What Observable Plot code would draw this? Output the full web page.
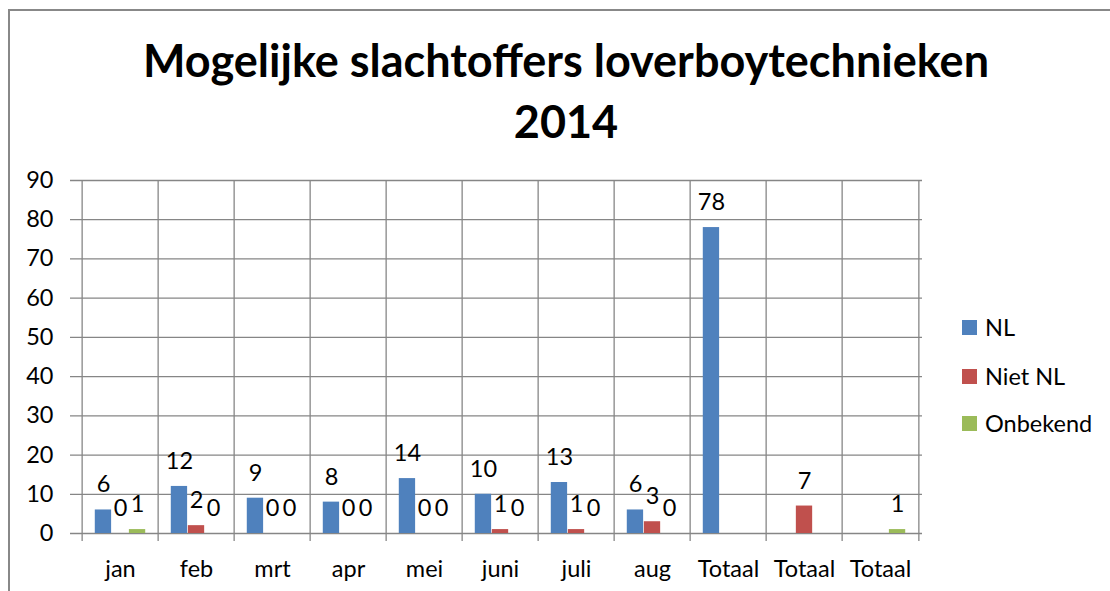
<!DOCTYPE html>
<html>
<head>
<meta charset="utf-8">
<script src="https://cdn.jsdelivr.net/npm/d3@7"></script>
<script src="https://cdn.jsdelivr.net/npm/@observablehq/plot@0.6"></script>
<style>
  html, body { margin: 0; padding: 0; background: #fff; }
  body { width: 1110px; height: 591px; position: relative; overflow: hidden; font-family: Lato, "Open Sans", sans-serif; color: #000; }
  #border { position: absolute; left: 8px; top: 9px; width: 1110px; height: 600px; border-top: 2px solid #888; border-left: 2px solid #888; }
  #title { position: absolute; left: 0; width: 1132px; top: 30px; text-align: center; font-weight: bold; font-size: 45px; line-height: 61px; }
  #chart { position: absolute; left: 0; top: 150px; }
  .leg { position: absolute; left: 962px; font-size: 23.5px; height: 20px; }
  .sw { position: absolute; width: 15px; height: 15px; left: 0; }
  .lt { position: absolute; left: 23px; top: -15px; white-space: nowrap; line-height: 30px; }
</style>
</head>
<body>
<div id="border"></div>
<div id="title">Mogelijke slachtoffers loverboytechnieken<br>2014</div>
<div id="chart"></div>
<div id="legend"></div>
<script>
const categories = ["jan", "feb", "mrt", "apr", "mei", "juni", "juli", "aug", "Totaal", "Totaal", "Totaal"];
const series = ["NL", "Niet NL", "Onbekend"];
const nl = [6, 12, 9, 8, 14, 10, 13, 6, 78, null, null];
const nietNl = [0, 2, 0, 0, 0, 1, 1, 3, null, 7, null];
const onbekend = [1, 0, 0, 0, 0, 0, 0, 0, null, null, 1];
const yTicks = [0, 10, 20, 30, 40, 50, 60, 70, 80, 90];
const colors = ["#4F81BD", "#C0504D", "#9BBB59"];

const keys = categories.map((c, i) => i);
const seriesValues = [nl, nietNl, onbekend];
const data = [];
seriesValues.forEach((vals, s) => vals.forEach((v, i) => {
  if (v != null) data.push({key: i, series: series[s], s, value: v});
}));

const width = 1110, height = 441;
const marginLeft = 78, marginRight = 188, marginTop = 30, marginBottom = 58;
const step = (width - marginLeft - marginRight) / keys.length;
const bw = step / 4.5;
const grid = "#868686";

const marks = [];
marks.push(Plot.ruleY(yTicks, {stroke: grid, strokeWidth: 1.3, insetLeft: -8}));
marks.push(Plot.ruleX(keys, {x: d => d, dx: -step / 2, stroke: grid, strokeWidth: 1.3, insetBottom: -8}));
marks.push(Plot.ruleX([keys[keys.length - 1]], {x: d => d, dx: step / 2, stroke: grid, strokeWidth: 1.3, insetBottom: -8}));
series.forEach((name, s) => {
  const sub = data.filter(d => d.s === s);
  marks.push(Plot.barY(sub, {x: "key", y: "value", fill: colors[s], insetLeft: bw * (0.75 + s), insetRight: bw * (2.75 - s)}));
  marks.push(Plot.text(sub, {x: "key", y: "value", text: d => String(d.value), dx: bw * (s - 1), dy: -25, fontSize: 23.5, fill: "#000"}));
});

const chart = Plot.plot({
  width, height, marginLeft, marginRight, marginTop, marginBottom,
  style: {fontFamily: "Lato, 'Open Sans', sans-serif", fontSize: "23.5px", color: "#000", background: "transparent"},
  x: {domain: keys, padding: 0, tickSize: 0, tickPadding: 27, tickFormat: i => categories[i], label: null},
  y: {domain: [0, 90], ticks: yTicks, tickSize: 0, tickPadding: 25, label: null},
  marks
});
document.getElementById("chart").appendChild(chart);

const legend = document.getElementById("legend");
const legendY = [327, 376, 423];
series.forEach((name, s) => {
  const item = document.createElement("div");
  item.className = "leg";
  item.style.top = legendY[s] + "px";
  item.innerHTML = `<div class="sw" style="background:${colors[s]};top:-7.5px"></div><div class="lt">${name}</div>`;
  legend.appendChild(item);
});
</script>
</body>
</html>
